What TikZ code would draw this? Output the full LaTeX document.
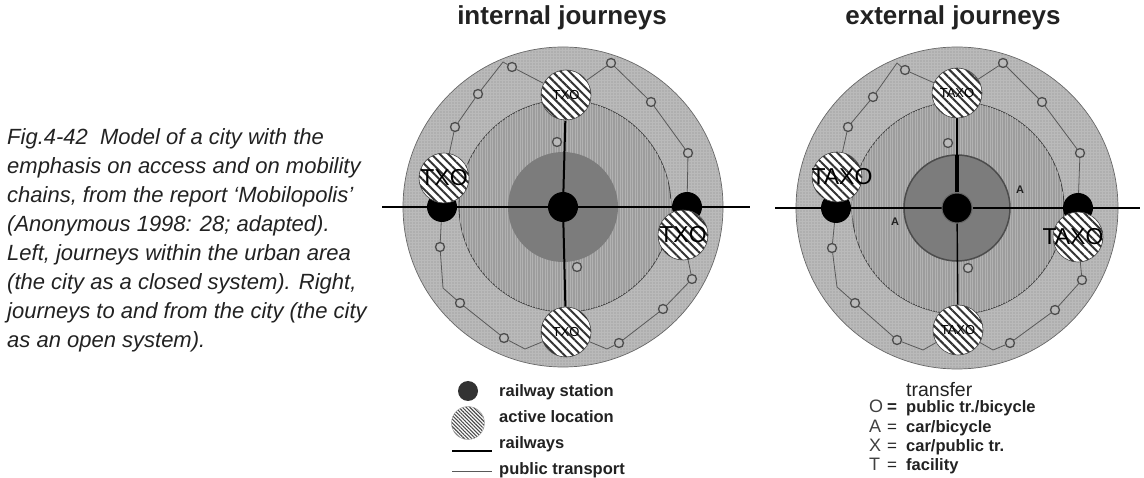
\documentclass[tikz,border=0pt]{standalone}
\usepackage{fontspec}
\setmainfont{Liberation Sans}
\usetikzlibrary{patterns.meta}
\pgfdeclarelayer{rings}
\pgfdeclarelayer{lines}
\pgfsetlayers{rings,lines,main}
\definecolor{outerring}{HTML}{BABABA}
\definecolor{midring}{HTML}{9C9C9C}
\definecolor{core}{HTML}{7C7C7C}
\definecolor{ink}{HTML}{222222}

\begin{document}
\begin{tikzpicture}[x=1pt,y=-1pt,
    station/.style={circle,fill=black,inner sep=0pt,minimum size=30pt},
    spot/.style={circle,draw=black!75,line width=0.6pt,inner sep=0pt,minimum size=50pt,
      preaction={fill=white},pattern={Lines[angle=-45,distance=6pt,line width=2pt]},pattern color=black!80},
    stop/.style={circle,draw=black!70,line width=1.3pt,fill=outerring,inner sep=0pt,minimum size=9pt},
    rail/.style={line width=2pt},
    bus/.style={draw=black!65,line width=0.8pt},
    txobig/.style={font=\fontsize{23}{23}\selectfont},
    txosmall/.style={font=\fontsize{13}{13}\selectfont},
    heading/.style={anchor=base,inner sep=0pt,font=\bfseries\fontsize{26}{30}\selectfont,text=ink},
    legend/.style={anchor=base west,inner sep=0pt,font=\bfseries\fontsize{16.5}{18}\selectfont,text=ink},
    outerfill/.style={draw=black!60,line width=0.7pt,fill=outerring,
      postaction={pattern={Dots[distance=3pt,radius=0.6pt]},pattern color=black!45}},
    midfill/.style={draw=black!75,line width=0.8pt,fill=midring,
      postaction={pattern={Lines[angle=90,distance=2.5pt,line width=0.5pt]},pattern color=black!30}}]
  \useasboundingbox (0,0) rectangle (1144,478);
  \begin{pgfonlayer}{rings}
    \fill[white] (0,0) rectangle (1144,478);
  \end{pgfonlayer}

  % caption
  \node[anchor=base west,inner sep=0pt,align=left,text=ink,
    font=\itshape\fontsize{22}{29}\selectfont] (caption) at (7,348)
    {Fig.4-42\ \ Model of a city with the\\
     emphasis on access and on mobility\\
     chains, from the report ‘Mobilopolis’\\
     (Anonymous 1998: 28; adapted).\\
     Left, journeys within the urban area\\
     (the city as a closed system). Right,\\
     journeys to and from the city (the city\\
     as an open system).};

  %% internal journeys
  \node[heading] (ihead) at (562,25) {internal journeys};
  \begin{pgfonlayer}{rings}
    \path[outerfill] (563,207) circle (160pt);
    \path[midfill] (565,206) circle (106pt);
    \fill[core] (563,207) circle (55pt);
  \end{pgfonlayer}
  \node[station] (ic) at (563,207) {};
  \node[station] (il) at (442,207) {};
  \node[station] (ir) at (687,207) {};
  \node[spot,label={[txosmall]center:TXO}] (itop) at (566,95) {};
  \node[spot,label={[txobig]center:TXO}] (ileft) at (444,178) {};
  \node[spot,label={[txobig]center:TXO}] (iright) at (683,235) {};
  \node[spot,label={[txosmall]center:TXO}] (ibot) at (566,332) {};
  \node[stop] (i1) at (512,67) {};
  \node[stop] (i2) at (478,94) {};
  \node[stop] (i3) at (455,127) {};
  \node[stop] (i4) at (611,63) {};
  \node[stop] (i5) at (651,102) {};
  \node[stop] (i6) at (688,153) {};
  \node[stop] (i7) at (692,279) {};
  \node[stop] (i8) at (663,309) {};
  \node[stop] (i9) at (619,343) {};
  \node[stop] (i10) at (504,338) {};
  \node[stop] (i11) at (460,303) {};
  \node[stop] (i12) at (440,247) {};
  \node[stop] (i13) at (557,142) {};
  \node[stop] (i14) at (577,267) {};
  \coordinate (iwest) at (382,207);
  \coordinate (ieast) at (750,207);
  \coordinate (iv1) at (503,62);
  \coordinate (iv3) at (607,349);
  \coordinate (iv4) at (525,349);
  \coordinate (iv5) at (443,288);
  \begin{pgfonlayer}{lines}
    \draw[rail] (iwest) -- (il) -- (ic) -- (ir) -- (ieast);
    \draw[rail] (itop) -- (ic) -- (ibot);
    \draw[bus] (ileft) -- (i3) -- (i2) -- (iv1) -- (i1) -- (itop);
    \draw[bus] (itop) -- (i4) -- (i5) -- (i6) -- (ir);
    \draw[bus] (iright) -- (i7) -- (i8) -- (i9) -- (iv3) -- (ibot);
    \draw[bus] (ibot) -- (iv4) -- (i10) -- (i11) -- (iv5) -- (i12) -- (il);
  \end{pgfonlayer}

  %% external journeys
  \node[heading] (ehead) at (953,25) {external journeys};
  \begin{pgfonlayer}{rings}
    \path[outerfill] (957,208) circle (161pt);
    \path[midfill] (958,208) circle (106pt);
    \filldraw[fill=core,draw=black!70,line width=1.5pt] (957,208) circle (53pt);
  \end{pgfonlayer}
  \node[station,draw=black!60,line width=1pt] (ec) at (957,208) {};
  \node[station] (el) at (836,208) {};
  \node[station] (er) at (1078,208) {};
  \node[spot,label={[txosmall]center:TAXO}] (etop) at (957,93) {};
  \node[spot,label={[txobig,xshift=5pt]center:TAXO}] (eleft) at (837,177) {};
  \node[spot,label={[txobig,xshift=-5pt]center:TAXO}] (eright) at (1078,237) {};
  \node[spot,label={[txosmall]center:TAXO}] (ebot) at (958,330) {};
  \node[stop] (e1) at (905,70) {};
  \node[stop] (e2) at (873,97) {};
  \node[stop] (e3) at (848,127) {};
  \node[stop] (e4) at (1003,63) {};
  \node[stop] (e5) at (1042,102) {};
  \node[stop] (e6) at (1080,153) {};
  \node[stop] (e7) at (1082,280) {};
  \node[stop] (e8) at (1055,310) {};
  \node[stop] (e9) at (1010,343) {};
  \node[stop] (e10) at (897,340) {};
  \node[stop] (e11) at (855,303) {};
  \node[stop] (e12) at (832,248) {};
  \node[stop] (e13) at (948,143) {};
  \node[stop] (e14) at (968,268) {};
  \node[font=\bfseries\fontsize{11}{11}\selectfont,text=ink] (ea1) at (1020,190) {A};
  \node[font=\bfseries\fontsize{11}{11}\selectfont,text=ink] (ea2) at (895,222) {A};
  \coordinate (ewest) at (775,208);
  \coordinate (eeast) at (1140,208);
  \coordinate (ecoretop) at (957,155);
  \coordinate (ev1) at (897,63);
  \coordinate (ev3) at (993,350);
  \coordinate (ev4) at (923,350);
  \coordinate (ev5) at (837,287);
  \begin{pgfonlayer}{lines}
    \draw[rail] (ewest) -- (el) -- (ec) -- (er) -- (eeast);
    \draw[line width=3.5pt] (ec) -- (ecoretop);
    \draw[rail] (ecoretop) -- (etop);
    \draw[line width=1.4pt] (ec) -- (ebot);
    \draw[bus] (eleft) -- (e3) -- (e2) -- (ev1) -- (e1) -- (etop);
    \draw[bus] (etop) -- (e4) -- (e5) -- (e6) -- (er);
    \draw[bus] (eright) -- (e7) -- (e8) -- (e9) -- (ev3) -- (ebot);
    \draw[bus] (ebot) -- (ev4) -- (e10) -- (e11) -- (ev5) -- (e12) -- (el);
  \end{pgfonlayer}

  %% legend, left
  \node[circle,fill=black!80,inner sep=0pt,minimum size=20pt] (kstation) at (468,391) {};
  \node[circle,draw=black!40,inner sep=0pt,minimum size=33pt,preaction={fill=white},
    pattern={Lines[angle=-45,distance=2.6pt,line width=1.1pt]},pattern color=black!70] (kspot) at (468,423) {};
  \coordinate (krail1) at (452,451);
  \coordinate (krail2) at (492,451);
  \coordinate (kbus1) at (452,471);
  \coordinate (kbus2) at (492,471);
  \draw[rail] (krail1) -- (krail2);
  \draw[bus] (kbus1) -- (kbus2);
  \node[legend] (lstation) at (499,397) {railway station};
  \node[legend] (lspot) at (499,423) {active location};
  \node[legend] (lrail) at (499,449) {railways};
  \node[legend] (lbus) at (499,475) {public transport};

  %% legend, right
  \node[legend,font=\fontsize{19.5}{20}\selectfont] (ltransfer) at (906,396) {transfer};
  \foreach \sym/\eq/\txt/\yy in {O/{\textbf{=}}/{public tr./bicycle}/413,A/=/{car/bicycle}/432,
      X/=/{car/public tr.}/451,T/=/facility/470} {
    \node[anchor=base west,inner sep=0pt,font=\fontsize{18}{18}\selectfont,text=black!75]
      (lsym\sym) at (869,\yy) {\sym};
    \node[anchor=base west,inner sep=0pt,font=\fontsize{17}{17}\selectfont,text=ink]
      (leq\sym) at (887,\yy) {\eq};
    \node[legend] (ltxt\sym) at (906,\yy) {\txt};
  }
\end{tikzpicture}
\end{document}
